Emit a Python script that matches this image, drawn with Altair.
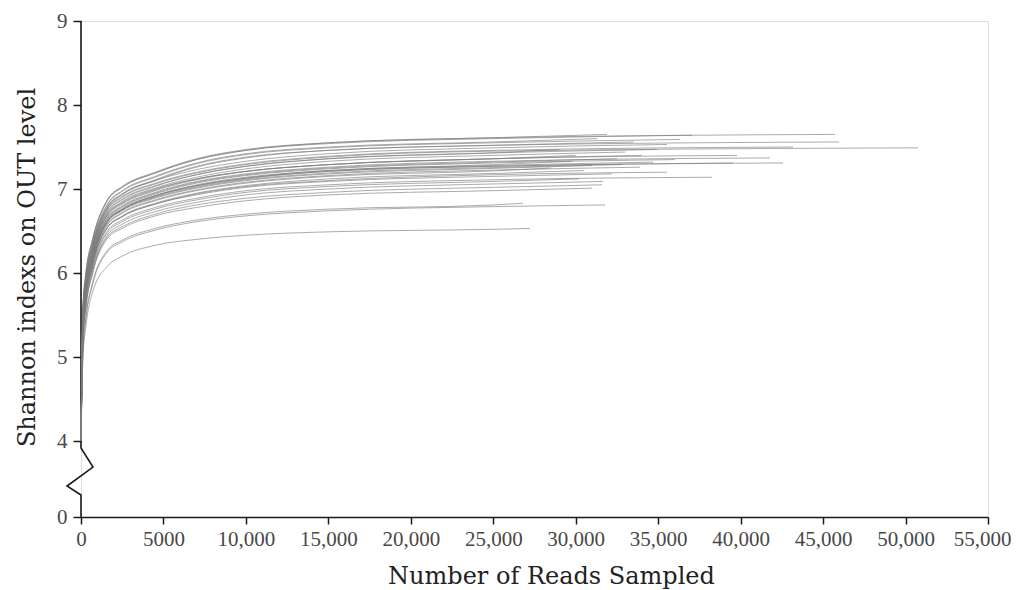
import altair as alt
import pandas as pd

# Rarefaction anchor read counts (x) shared by all curves
ANCHOR_READS = [0, 120, 300, 700, 1600, 2500, 4500, 7000, 10000, 15000, 25000]
START_VALUE = 4.0

# Final sample size (reads) of each curve
END_READS = [45720, 45965, 50755, 43175, 41780, 42570, 39780, 39535, 38265, 37050,
             36320, 35535, 34930, 35535, 34685, 33900, 31900, 31655, 31595, 30990,
             31775, 27230, 26800, 33000, 32500, 31000, 30500, 32200, 29800, 34000,
             30200, 28500, 33500, 29000, 31300, 36000, 32800, 30000]

# Shannon index of each curve at reads 120, 300, 700, 1600, 2500, 4500, 7000, 10000,
# 15000, 25000 and at its final sample size
CURVE_VALUES = [
    [5.60, 6.00, 6.40, 6.87, 7.03, 7.20, 7.36, 7.47, 7.55, 7.61, 7.65],
    [5.51, 5.91, 6.31, 6.78, 6.94, 7.11, 7.27, 7.38, 7.46, 7.52, 7.56],
    [5.49, 5.89, 6.29, 6.75, 6.90, 7.06, 7.19, 7.29, 7.38, 7.45, 7.49],
    [5.50, 5.90, 6.30, 6.76, 6.91, 7.07, 7.20, 7.30, 7.39, 7.46, 7.50],
    [5.40, 5.80, 6.20, 6.66, 6.80, 6.96, 7.09, 7.18, 7.26, 7.33, 7.37],
    [5.36, 5.76, 6.16, 6.61, 6.75, 6.91, 7.03, 7.12, 7.21, 7.27, 7.31],
    [5.43, 5.83, 6.23, 6.69, 6.83, 6.99, 7.12, 7.21, 7.29, 7.36, 7.40],
    [5.37, 5.77, 6.17, 6.62, 6.76, 6.92, 7.04, 7.13, 7.21, 7.27, 7.31],
    [5.27, 5.67, 6.07, 6.50, 6.63, 6.78, 6.89, 6.98, 7.05, 7.11, 7.14],
    [5.61, 6.01, 6.40, 6.87, 7.02, 7.19, 7.35, 7.46, 7.54, 7.60, 7.64],
    [5.54, 5.94, 6.34, 6.81, 6.97, 7.14, 7.30, 7.41, 7.49, 7.55, 7.59],
    [5.53, 5.93, 6.33, 6.79, 6.94, 7.10, 7.23, 7.33, 7.42, 7.49, 7.53],
    [5.47, 5.87, 6.27, 6.73, 6.88, 7.04, 7.17, 7.27, 7.36, 7.43, 7.47],
    [5.30, 5.70, 6.10, 6.54, 6.67, 6.82, 6.94, 7.03, 7.10, 7.17, 7.20],
    [5.37, 5.77, 6.17, 6.62, 6.76, 6.92, 7.04, 7.13, 7.22, 7.28, 7.32],
    [5.33, 5.73, 6.13, 6.58, 6.72, 6.87, 6.99, 7.08, 7.16, 7.225, 7.26],
    [5.58, 5.98, 6.38, 6.86, 7.02, 7.19, 7.35, 7.46, 7.55, 7.61, 7.65],
    [5.22, 5.62, 6.02, 6.45, 6.58, 6.73, 6.84, 6.93, 7.00, 7.06, 7.09],
    [5.20, 5.60, 6.00, 6.43, 6.55, 6.70, 6.81, 6.89, 6.96, 7.02, 7.05],
    [5.19, 5.59, 5.99, 6.41, 6.53, 6.68, 6.78, 6.86, 6.93, 6.98, 7.01],
    [5.06, 5.46, 5.86, 6.25, 6.37, 6.51, 6.61, 6.68, 6.74, 6.79, 6.81],
    [5.00, 5.37, 5.77, 6.08, 6.20, 6.33, 6.40, 6.45, 6.49, 6.52, 6.53],
    [5.08, 5.48, 5.88, 6.27, 6.39, 6.53, 6.63, 6.70, 6.76, 6.81, 6.83],
    [5.44, 5.84, 6.24, 6.70, 6.85, 7.01, 7.14, 7.24, 7.33, 7.40, 7.44],
    [5.39, 5.79, 6.19, 6.65, 6.79, 6.95, 7.08, 7.17, 7.25, 7.32, 7.36],
    [5.35, 5.75, 6.15, 6.60, 6.74, 6.89, 7.01, 7.10, 7.18, 7.245, 7.28],
    [5.29, 5.69, 6.09, 6.54, 6.68, 6.83, 6.95, 7.04, 7.12, 7.185, 7.22],
    [5.31, 5.71, 6.11, 6.54, 6.67, 6.82, 6.93, 7.02, 7.09, 7.15, 7.18],
    [5.36, 5.76, 6.16, 6.62, 6.76, 6.92, 7.05, 7.14, 7.22, 7.29, 7.33],
    [5.45, 5.85, 6.24, 6.70, 6.84, 7.00, 7.12, 7.21, 7.29, 7.36, 7.40],
    [5.25, 5.65, 6.05, 6.48, 6.61, 6.76, 6.87, 6.96, 7.03, 7.09, 7.12],
    [5.32, 5.72, 6.12, 6.57, 6.71, 6.86, 6.98, 7.07, 7.15, 7.215, 7.25],
    [5.50, 5.90, 6.30, 6.77, 6.93, 7.10, 7.26, 7.37, 7.46, 7.52, 7.56],
    [5.46, 5.86, 6.26, 6.72, 6.87, 7.03, 7.17, 7.27, 7.36, 7.43, 7.47],
    [5.55, 5.95, 6.35, 6.82, 6.98, 7.15, 7.31, 7.42, 7.50, 7.56, 7.60],
    [5.38, 5.78, 6.18, 6.64, 6.78, 6.94, 7.07, 7.16, 7.24, 7.31, 7.35],
    [5.36, 5.76, 6.16, 6.61, 6.75, 6.90, 7.02, 7.11, 7.19, 7.255, 7.29],
    [5.41, 5.81, 6.21, 6.68, 6.82, 6.98, 7.11, 7.21, 7.29, 7.36, 7.40],
]

# Broken y-axis line (reads, index) drawn in data space
AXIS_X = [0, 0, 728, -849, 0, 0]
AXIS_Y = [9, 3.63, 2.63, 1.63, 1.16, 0]

X_TICKS = [0, 5000, 10000, 15000, 20000, 25000, 30000, 35000, 40000, 45000, 50000, 55000]
Y_TICKS = [0, 4, 5, 6, 7, 8, 9]

rows = []
for i, (end, vals) in enumerate(zip(END_READS, CURVE_VALUES)):
    xs = ANCHOR_READS + [end]
    ys = [START_VALUE] + vals
    for x, y in zip(xs, ys):
        rows.append({"curve": i, "reads": x, "shannon": y})
df = pd.DataFrame(rows)

axis_df = pd.DataFrame({"reads": AXIS_X, "shannon": AXIS_Y, "k": list(range(len(AXIS_X)))})

LABEL_FONT = "Liberation Serif"
TITLE_FONT = "DejaVu Serif"

x_scale = alt.Scale(domain=[0, 55000], nice=False, zero=False)
y_scale = alt.Scale(domain=[0, 4, 9], range=[496, 420, 0], nice=False, zero=False)

curves = alt.Chart(df).mark_line(
    stroke="#7a7a7a", strokeWidth=0.8, opacity=0.8, interpolate="monotone"
).encode(
    x=alt.X("reads:Q", scale=x_scale,
            axis=alt.Axis(values=X_TICKS, title="Number of Reads Sampled",
                          labelExpr="datum.value == 5000 ? '5000' : format(datum.value, ',')",
                          labelOverlap=False, labelFlush=False,
                          labelOffset=alt.condition("datum.value == 55000", alt.value(-6), alt.value(0)),
                          grid=False, domain=True, domainColor="#1a1a1a", domainWidth=1.5,
                          tickColor="#1a1a1a", tickWidth=1.5, tickSize=7,
                          labelFont=LABEL_FONT, labelFontSize=21, labelColor="#484848",
                          labelPadding=4, titleFont=TITLE_FONT, titleFontSize=24,
                          titleFontWeight="normal", titleColor="#222222",
                          titleX=470, titleY=66, titleAlign="center",
                          titleBaseline="alphabetic", titleAnchor="start")),
    y=alt.Y("shannon:Q", scale=y_scale,
            axis=alt.Axis(values=Y_TICKS, title="Shannon indexs on OUT level",
                          format="d", labelOverlap=False, labelFlush=False,
                          grid=False, domain=False,
                          tickColor="#1a1a1a", tickWidth=1.5, tickSize=8,
                          labelFont=LABEL_FONT, labelFontSize=21, labelColor="#484848",
                          labelPadding=6, titleFont=TITLE_FONT, titleFontSize=24,
                          titleFontWeight="normal", titleColor="#222222",
                          titleX=-54, titleY=246, titleAngle=270, titleAlign="center",
                          titleBaseline="middle", titleAnchor="start")),
    detail="curve:N",
)

axis_line = alt.Chart(axis_df).mark_line(
    stroke="#1a1a1a", strokeWidth=1.6, strokeJoin="miter"
).encode(
    x=alt.X("reads:Q", scale=x_scale),
    y=alt.Y("shannon:Q", scale=y_scale),
    order="k:Q",
)

chart = alt.layer(axis_line, curves).properties(
    width=907, height=496,
    autosize=alt.AutoSizeParams(type="none"),
    padding={"left": 73, "top": 13, "right": 24, "bottom": 72},
).configure_view(stroke=None).configure(background="white")

chart.save("out.html", embed_options={"renderer": "svg", "actions": False})
